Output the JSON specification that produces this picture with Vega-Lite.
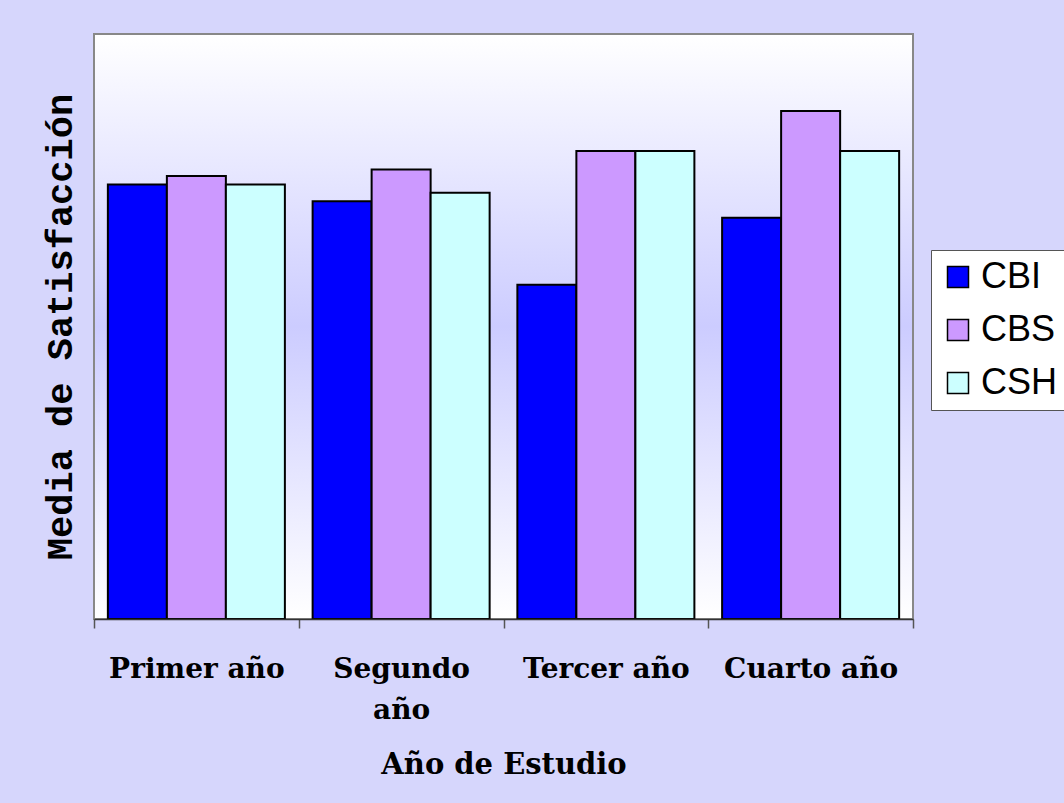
{
  "$schema": "https://vega.github.io/schema/vega-lite/v6.json",
  "autosize": "none",
  "padding": {"left": 94, "top": 34, "right": 151, "bottom": 184},
  "width": 819,
  "height": 585,
  "background": "#d6d6fc",
  "config": {
    "view": {"stroke": "#888888", "strokeWidth": 2},
    "axis": {"labelColor": "#000000", "titleColor": "#000000"}
  },
  "datasets": {
    "bars": [
      {"anio": "Primer año", "grupo": "CBI", "media": 2.6},
      {"anio": "Primer año", "grupo": "CBS", "media": 2.65},
      {"anio": "Primer año", "grupo": "CSH", "media": 2.6},
      {"anio": "Segundo año", "grupo": "CBI", "media": 2.5},
      {"anio": "Segundo año", "grupo": "CBS", "media": 2.69},
      {"anio": "Segundo año", "grupo": "CSH", "media": 2.55},
      {"anio": "Tercer año", "grupo": "CBI", "media": 2.0},
      {"anio": "Tercer año", "grupo": "CBS", "media": 2.8},
      {"anio": "Tercer año", "grupo": "CSH", "media": 2.8},
      {"anio": "Cuarto año", "grupo": "CBI", "media": 2.4},
      {"anio": "Cuarto año", "grupo": "CBS", "media": 3.04},
      {"anio": "Cuarto año", "grupo": "CSH", "media": 2.8}
    ]
  },
  "layer": [
    {
      "data": {"values": [{"fondo": 1}]},
      "mark": {
        "type": "rect",
        "stroke": "#888888",
        "strokeWidth": 2,
        "fill": {
          "gradient": "linear",
          "x1": 0, "y1": 0, "x2": 0, "y2": 1,
          "stops": [
            {"offset": 0, "color": "#ffffff"},
            {"offset": 0.5, "color": "#ccccff"},
            {"offset": 1, "color": "#ffffff"}
          ]
        }
      },
      "encoding": {}
    },
    {
      "data": {"name": "bars"},
      "mark": {"type": "bar", "stroke": "#000000", "strokeWidth": 2},
      "encoding": {
        "x": {
          "field": "anio",
          "type": "nominal",
          "sort": ["Primer año", "Segundo año", "Tercer año", "Cuarto año"],
          "scale": {"paddingInner": 0, "paddingOuter": 0},
          "axis": {
            "title": "Año de Estudio",
            "labelAngle": 0,
            "labelFont": "DejaVu Serif",
            "labelFontWeight": "bold",
            "labelFontSize": 28,
            "labelLineHeight": 41,
            "labelLimit": 300,
            "labelPadding": 27,
            "labelExpr": "datum.label == 'Segundo año' ? ['Segundo', 'año'] : datum.label",
            "tickBand": "extent",
            "tickSize": 9,
            "tickColor": "#555555",
            "tickWidth": 1.5,
            "domainColor": "#333333",
            "domainWidth": 1.5,
            "titleFont": "DejaVu Serif",
            "titleFontWeight": "bold",
            "titleFontSize": 29,
            "titlePadding": 26,
            "zindex": 1
          }
        },
        "xOffset": {
          "field": "grupo",
          "type": "nominal",
          "sort": ["CBI", "CBS", "CSH"],
          "scale": {"paddingInner": 0, "paddingOuter": 0.235}
        },
        "y": {
          "field": "media",
          "type": "quantitative",
          "scale": {"domain": [0, 3.5], "nice": false},
          "axis": {
            "title": "Media de Satisfacción",
            "labels": false,
            "ticks": false,
            "domain": false,
            "grid": false,
            "titleFont": "Liberation Mono",
            "titleFontWeight": "bold",
            "titleFontSize": 37,
            "titlePadding": 15
          }
        },
        "color": {
          "field": "grupo",
          "type": "nominal",
          "sort": ["CBI", "CBS", "CSH"],
          "scale": {"domain": ["CBI", "CBS", "CSH"], "range": ["#0000ff", "#cc99ff", "#ccffff"]},
          "legend": {
            "title": null,
            "orient": "none",
            "legendX": 837,
            "legendY": 216,
            "fillColor": "#ffffff",
            "strokeColor": "#555555",
            "padding": 9,
            "rowPadding": 17,
            "symbolType": "square",
            "symbolSize": 441,
            "symbolStrokeColor": "#000000",
            "symbolStrokeWidth": 1.5,
            "symbolOpacity": 1,
            "labelFont": "Liberation Sans",
            "labelFontSize": 36,
            "labelColor": "#000000",
            "labelOffset": 5
          }
        }
      }
    }
  ]
}
